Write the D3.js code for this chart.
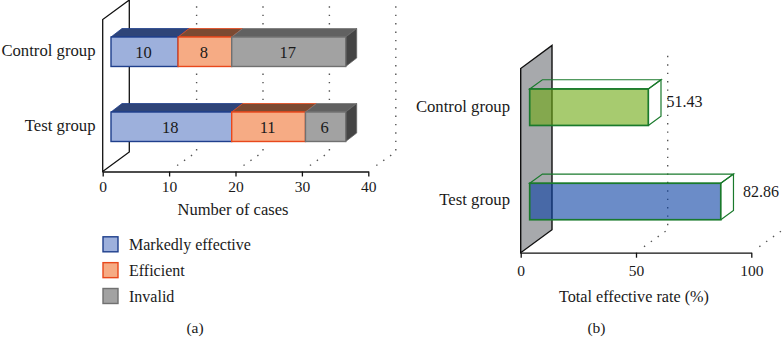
<!DOCTYPE html>
<html>
<head>
<meta charset="utf-8">
<script src="https://cdn.jsdelivr.net/npm/d3@7"></script>
<style>
  html, body { margin: 0; background: #fff; }
  svg { display: block; }
  text { font-family: "Liberation Serif", serif; fill: #1a1a1a; }
  .domain, .tick line { stroke: #111; stroke-width: 1.3; }
  .dots { fill: none; stroke: #555; stroke-width: 1.4; stroke-dasharray: 1.4 7; }
</style>
</head>
<body>
<svg id="chart" width="782" height="337"></svg>
<script>
// Data
const groups = ['Control group', 'Test group']
const kinds = ['Markedly effective', 'Efficient', 'Invalid']
const cases_control = [10, 8, 17]
const cases_test = [18, 11, 6]
const casesTicks = [0, 10, 20, 30, 40]
const rates = [51.43, 82.86]
const rateLabels = ['51.43', '82.86']
const rateTicks = [0, 50, 100]

const fills = ['#9db0dc', '#f6ab84', '#a2a2a2']
const strokes = ['#1f3f8c', '#e8481c', '#707070']
const tops = ['#2e4478', '#7c4a32', '#616161']

const svg = d3.select('#chart')
const para = (x, y, w, dx, dy) => `M${x},${y} L${x + dx},${y + dy} L${x + w + dx},${y + dy} L${x + w},${y} Z`
const tickStyle = s => s.selectAll('text').attr('font-size', 15.5).attr('font-family', '"Liberation Serif", serif').attr('fill', '#1a1a1a')

/* Panel a */
const a = {axisY: 171.5, wallTop: 19.5, dx: 26.6, dy: -19.5, gridDx: 27.5, barDx: 11, barDy: -8.5}
const xa = d3.scaleLinear().domain([0, 40]).range([102.7, 368.3])
const barX = d3.scaleLinear().domain([0, 35]).range([111, 345.7]) // bars sit a little off the wall
const ya = d3.scaleBand().domain(groups).range([22, 156.5]).paddingInner(0.607).paddingOuter(0.2)
const ga = svg.append('g')

// Back grid, dotted
casesTicks.slice(1).forEach(t => {
    ga.append('path').attr('class', 'dots')
        .attr('d', `M${xa(t) + 8},${a.axisY - 6} L${xa(t) + a.gridDx},${a.axisY + a.dy} L${xa(t) + a.gridDx},6`)
})
// Side wall
ga.append('path').attr('fill', 'none').attr('stroke', '#111').attr('stroke-width', 1.3)
    .attr('d', `M${xa(0)},${a.axisY} L${xa(0)},${a.wallTop} L${xa(0) + a.dx},${a.wallTop + a.dy} L${xa(0) + a.dx},${a.axisY + a.dy} Z`)

// Stacked bars
const stackRows = [cases_control, cases_test]
stackRows.forEach((row, r) => {
    const y0 = ya(groups[r]), h = ya.bandwidth()
    let sum = 0
    const segs = row.map((v, i) => {
        const s = {i: i, v: v, x: barX(sum), w: barX(sum + v) - barX(sum)}
        sum += v
        return s
    })
    const g = ga.append('g')
    g.selectAll('.top').data(segs).enter().append('path')
        .attr('d', d => para(d.x, y0, d.w, a.barDx, a.barDy))
        .attr('fill', d => tops[d.i]).attr('stroke', d => d.i === 2 ? '#777' : strokes[d.i]).attr('stroke-width', 0.8)
    const last = segs[segs.length - 1]
    g.append('path')
        .attr('d', `M${last.x + last.w},${y0} l${a.barDx},${a.barDy} v${h} l${-a.barDx},${-a.barDy} Z`)
        .attr('fill', '#444').attr('stroke', '#666').attr('stroke-width', 0.8)
    g.selectAll('.front').data(segs).enter().append('rect')
        .attr('x', d => d.x).attr('y', y0).attr('width', d => d.w).attr('height', h)
        .attr('fill', d => fills[d.i]).attr('stroke', d => strokes[d.i]).attr('stroke-width', 1.4)
    g.selectAll('.val').data(segs).enter().append('text')
        .attr('x', d => d.x + d.w / 2 - 1).attr('y', y0 + h / 2 + 6.5)
        .attr('text-anchor', 'middle').attr('font-size', 16.5)
        .text(d => d.v)
})

// Axes
ga.append('g').attr('transform', `translate(0,${a.axisY})`)
    .call(d3.axisBottom(xa).tickValues(casesTicks).tickSize(5).tickPadding(4).tickSizeOuter(0))
    .call(tickStyle)
ga.selectAll('.group-lbl').data(groups).enter().append('text')
    .attr('x', 95.5).attr('y', d => ya(d) + ya.bandwidth() / 2 + 4.5)
    .attr('text-anchor', 'end').attr('font-size', 16.7).text(d => d)
ga.append('text').attr('x', 233).attr('y', 215).attr('text-anchor', 'middle').attr('font-size', 16.5).text('Number of cases')

// Legend
const ly = d3.scalePoint().domain(kinds).range([244.3, 296])
ga.selectAll('.lg').data(kinds).enter().append('rect')
    .attr('x', 103).attr('y', d => ly(d) - 7.5).attr('width', 15).attr('height', 15)
    .attr('fill', (d, i) => fills[i]).attr('stroke', (d, i) => strokes[i]).attr('stroke-width', 1.4)
ga.selectAll('.lg-t').data(kinds).enter().append('text')
    .attr('x', 129).attr('y', d => ly(d) + 5.5).attr('font-size', 16).text(d => d)
ga.append('text').attr('x', 195).attr('y', 333).attr('text-anchor', 'middle').attr('font-size', 15.5).text('(a)')

/* Panel b */
const b = {axisY: 252.7, wallTop: 68.5, dx: 31.3, dy: -23, gridDx: 31.7, barDx: 12.7, barDy: -9.2, inset: 9}
const xb = d3.scaleLinear().domain([0, 100]).range([520.7, 751.3])
const yb = d3.scaleBand().domain(groups).range([70.1, 238.6]).paddingInner(0.613).paddingOuter(0.2)
const gb = svg.append('g')
const rateFills = ['#6ca80f', '#083fa3']

gb.append('path').attr('fill', '#a7a9ac').attr('stroke', '#111').attr('stroke-width', 1.4)
    .attr('d', `M${xb(0)},${b.axisY} L${xb(0)},${b.wallTop} L${xb(0) + b.dx},${b.wallTop + b.dy} L${xb(0) + b.dx},${b.axisY + b.dy} Z`)
rateTicks.slice(1).forEach(t => {
    gb.append('path').attr('class', 'dots')
        .attr('d', `M${xb(t) + 8},${b.axisY - 6} L${xb(t) + b.gridDx},${b.axisY + b.dy} L${xb(t) + b.gridDx},51.5`)
})

rates.forEach((v, r) => {
    const y0 = yb(groups[r]), h = yb.bandwidth(), x0 = xb(0) + b.inset, w = xb(v) - xb(0)
    const g = gb.append('g').attr('fill', 'none').attr('stroke', '#1a7a2c')
    g.append('path').attr('stroke-width', 1.2).attr('d', para(x0, y0, w, b.barDx, b.barDy))
    g.append('path').attr('stroke-width', 1.2)
        .attr('d', `M${x0 + w},${y0} l${b.barDx},${b.barDy} v${h} l${-b.barDx},${-b.barDy}`)
    g.append('rect').attr('x', x0).attr('y', y0).attr('width', w).attr('height', h)
        .attr('fill', rateFills[r]).attr('fill-opacity', 0.6).attr('stroke-width', 1.7)
})
gb.selectAll('.rate').data(rateLabels).enter().append('text')
    .attr('x', (d, i) => i ? 743 : 666.5).attr('y', (d, i) => i ? 197 : 107)
    .attr('font-size', 16).text(d => d)

gb.append('g').attr('transform', `translate(0,${b.axisY})`)
    .call(d3.axisBottom(xb).tickValues(rateTicks).tickSize(5).tickPadding(7.5).tickSizeOuter(0))
    .call(tickStyle)
gb.selectAll('.group-lbl').data(groups).enter().append('text')
    .attr('x', 510).attr('y', (d, i) => i ? 205 : 112)
    .attr('text-anchor', 'end').attr('font-size', 16.7).text(d => d)
gb.append('text').attr('x', 634).attr('y', 302).attr('text-anchor', 'middle').attr('font-size', 16.2).text('Total effective rate (%)')
gb.append('text').attr('x', 596.5).attr('y', 333).attr('text-anchor', 'middle').attr('font-size', 15.5).text('(b)')
</script>
</body>
</html>
